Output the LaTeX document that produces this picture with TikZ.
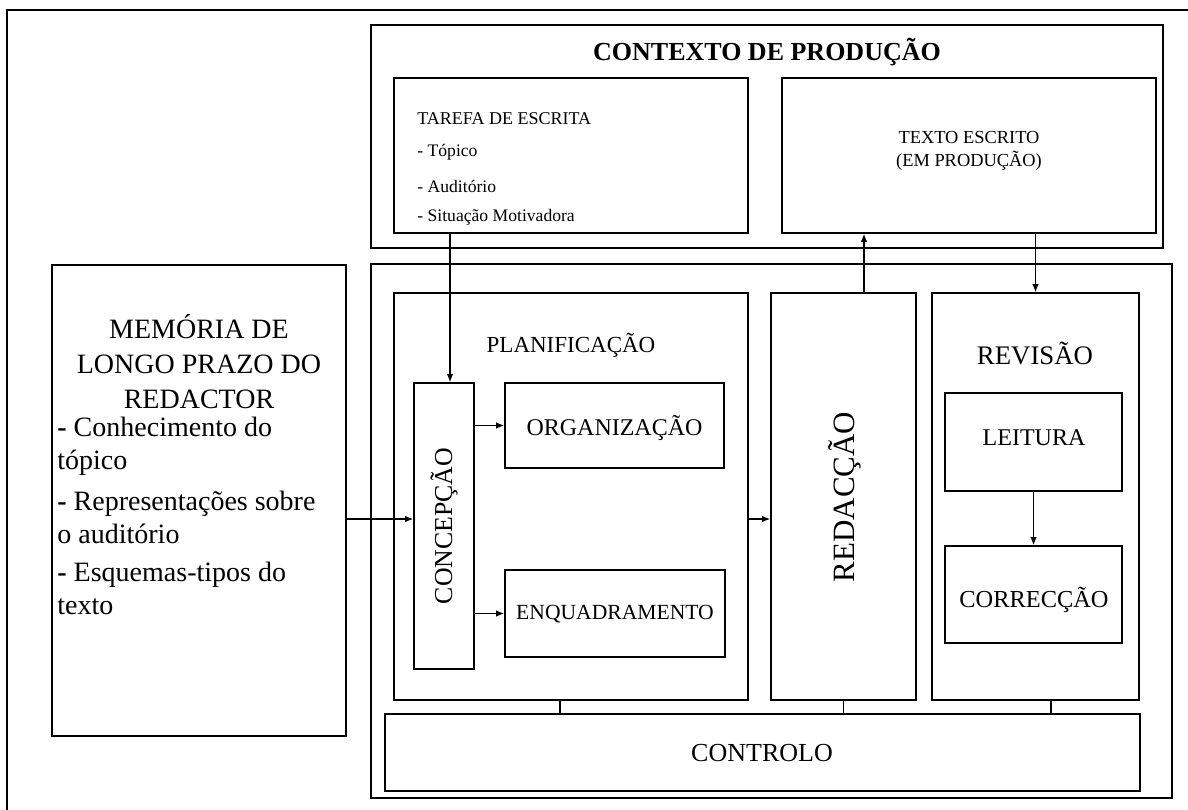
\documentclass[tikz,border=0pt]{standalone}
\usepackage{fontspec}
\setmainfont{Liberation Serif}
\usetikzlibrary{fit,arrows.meta}
\newcommand\fsz[2]{\fontsize{#1}{#2}\selectfont}
\begin{document}
\begin{tikzpicture}[x=0.5pt,y=-0.5pt,
  box/.style={draw, line width=0.8pt, inner sep=0pt},
  arr/.style={line width=0.6pt, -{Latex[length=4pt,width=3.2pt]}},
  link/.style={line width=0.6pt},
  lbl/.style={inner sep=0pt, align=center}]
\useasboundingbox (0,0) rectangle (1188,809);
% outer frame (right and bottom edges lie outside the picture)
\draw[line width=0.8pt] (7,815) |- (1195,10);

% boxes
\node[box, fit={(371,25) (1163,248)}] (ctx) {};
\node[box, fit={(394,78) (748,233)}] (task) {};
\node[box, fit={(782,78) (1156,233)}] (texto) {};
\node[box, fit={(371,264) (1172,798)}] (lower) {};
\node[box, fit={(52,265) (346,736)}] (mem) {};
\node[box, fit={(394,293) (748,700)}] (plan) {};
\node[box, fit={(414,383) (474,669)}] (conc) {};
\node[box, fit={(505,383) (724,468)}] (org) {};
\node[box, fit={(505,570) (725,657)}] (enq) {};
\node[box, fit={(771,293) (916,700)}] (red) {};
\node[box, fit={(932,293) (1139,700)}] (rev) {};
\node[box, fit={(945,393) (1122,491)}] (lei) {};
\node[box, fit={(945,546) (1122,643)}] (cor) {};
\node[box, fit={(385,714) (1140,791)}] (ctrl) {};

% texts
\node[lbl, font=\fsz{13}{15}\bfseries] (tctx) at (767,52) {CONTEXTO DE PRODUÇÃO};
\node[lbl, anchor=west, font=\fsz{9}{10}] (ttask) at (417,119) {TAREFA DE ESCRITA};
\node[lbl, anchor=west, font=\fsz{8.8}{10}] (ttop) at (417,152) {- Tópico};
\node[lbl, anchor=west, font=\fsz{8.8}{10}] (taud) at (417,186) {- Auditório};
\node[lbl, anchor=west, font=\fsz{8.8}{10}] (tsit) at (417,217) {- Situação Motivadora};
\node[lbl, font=\fsz{9.2}{11.5}] (ttexto) at (969,151) {TEXTO ESCRITO\\(EM PRODUÇÃO)};
\node[lbl, font=\fsz{14}{17.5}] (tmem) at (199,362) {MEMÓRIA DE\\LONGO PRAZO DO\\REDACTOR};
\node[lbl, anchor=west, align=left, font=\fsz{14}{16.5}] (tm1) at (57,446) {\textbf{-} Conhecimento do\\tópico};
\node[lbl, anchor=west, align=left, font=\fsz{14}{16.5}] (tm2) at (57,517) {\textbf{-} Representações sobre\\o auditório};
\node[lbl, anchor=west, align=left, font=\fsz{14}{16.5}] (tm3) at (57,588) {\textbf{-} Esquemas-tipos do\\texto};
\node[lbl, font=\fsz{11.5}{13}] (tplan) at (571,345) {PLANIFICAÇÃO};
\node[lbl, font=\fsz{12.9}{14}, rotate=90] (tconc) at (444,526) {CONCEPÇÃO};
\node[lbl, font=\fsz{12}{14}] (torg) at (614.5,428) {ORGANIZAÇÃO};
\node[lbl, font=\fsz{10.8}{13}] (tenq) at (615,614) {ENQUADRAMENTO};
\node[lbl, font=\fsz{15.5}{17}, rotate=90] (tred) at (845,497) {REDACÇÃO};
\node[lbl, font=\fsz{13.4}{15}] (trev) at (1035,353) {REVISÃO};
\node[lbl, font=\fsz{12}{14}] (tlei) at (1034,438) {LEITURA};
\node[lbl, font=\fsz{12.2}{14}] (tcor) at (1034,600) {CORRECÇÃO};
\node[lbl, font=\fsz{13}{15}] (tctrl) at (762,753) {CONTROLO};

% connectors
\draw[arr] ([xshift=3pt]conc.north |- task.south) -- ([xshift=3pt]conc.north);
\draw[arr] ([xshift=10.25pt]red.north) -- ([xshift=10.25pt]red.north |- texto.south);
\draw[arr] (rev.north |- texto.south) -- (rev.north);
\draw[arr] ([yshift=3.5pt]conc.west -| mem.east) -- ([yshift=3.5pt]conc.west);
\draw[arr] (conc.east |- org.west) -- (org.west);
\draw[arr] (conc.east |- enq.west) -- (enq.west);
\draw[arr] ([yshift=-11.25pt]plan.east) -- ([yshift=-11.25pt]red.west);
\draw[arr] (lei.south) -- (lei.south |- cor.north);
\draw[link] ([xshift=-5.5pt]plan.south) -- ([xshift=-5.5pt]plan.south |- ctrl.north);
\draw[link] (red.south) -- (red.south |- ctrl.north);
\draw[link] ([xshift=7.75pt]rev.south) -- ([xshift=7.75pt]rev.south |- ctrl.north);
\end{tikzpicture}
\end{document}
